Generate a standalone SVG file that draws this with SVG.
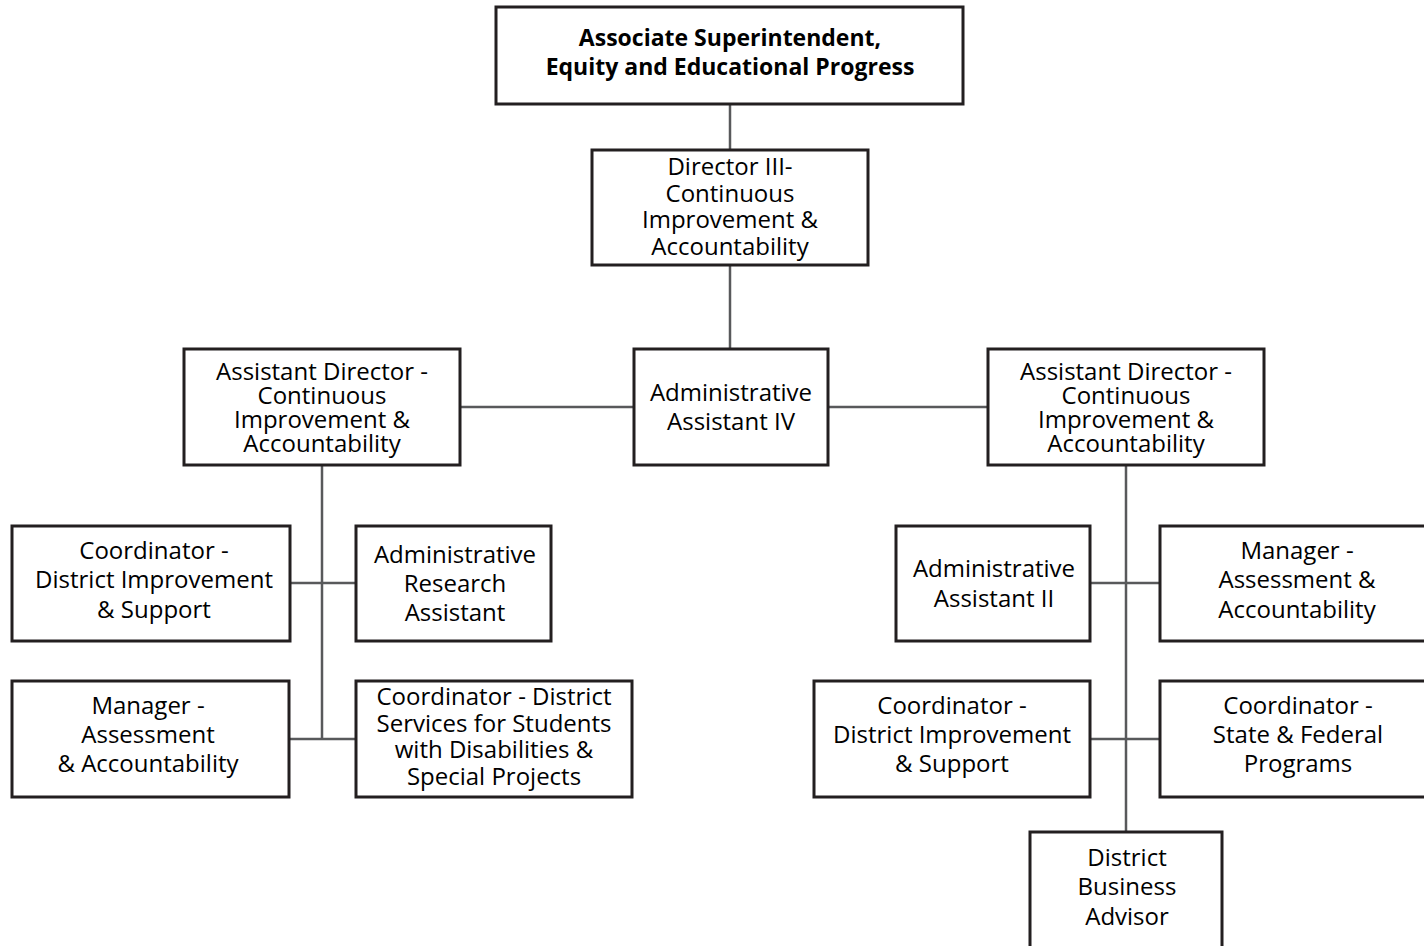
<svg xmlns="http://www.w3.org/2000/svg" width="1424" height="946" viewBox="0 0 1424 946">
<style>
.box{fill:#fff;stroke:#231f20;stroke-width:3}
.t{font-family:"Open Sans","Noto Sans",sans-serif;font-size:24px;fill:#000;text-anchor:middle}
.b{font-weight:bold;font-size:23px}
.c{stroke:#58595b;stroke-width:2.5;fill:none}
</style>
<rect width="1424" height="946" fill="#fff"/>
<g id="connectors">
<line class="c" x1="730" y1="104" x2="730" y2="150"/>
<line class="c" x1="730" y1="265" x2="730" y2="349"/>
<line class="c" x1="460" y1="407" x2="634" y2="407"/>
<line class="c" x1="828" y1="407" x2="988" y2="407"/>
<line class="c" x1="322" y1="465" x2="322" y2="739"/>
<line class="c" x1="290" y1="583" x2="356" y2="583"/>
<line class="c" x1="289" y1="739" x2="356" y2="739"/>
<line class="c" x1="1126" y1="465" x2="1126" y2="832"/>
<line class="c" x1="1090" y1="583" x2="1160" y2="583"/>
<line class="c" x1="1090" y1="739" x2="1160" y2="739"/>
</g>
<g id="n-assoc">
<rect class="box" x="496" y="7" width="467" height="97"/>
<text class="t b" x="730" y="46">Associate Superintendent,</text>
<text class="t b" x="730" y="75">Equity and Educational Progress</text>
</g>
<g id="n-director">
<rect class="box" x="592" y="150" width="276" height="115"/>
<text class="t" x="730" y="175">Director III-</text>
<text class="t" x="730" y="202">Continuous</text>
<text class="t" x="730" y="228">Improvement &amp;</text>
<text class="t" x="730" y="255">Accountability</text>
</g>
<g id="n-ad-left">
<rect class="box" x="184" y="349" width="276" height="116"/>
<text class="t" x="322" y="380">Assistant Director -</text>
<text class="t" x="322" y="404">Continuous</text>
<text class="t" x="322" y="428">Improvement &amp;</text>
<text class="t" x="322" y="452">Accountability</text>
</g>
<g id="n-aa4">
<rect class="box" x="634" y="349" width="194" height="116"/>
<text class="t" x="731" y="401">Administrative</text>
<text class="t" x="731" y="430">Assistant IV</text>
</g>
<g id="n-ad-right">
<rect class="box" x="988" y="349" width="276" height="116"/>
<text class="t" x="1126" y="380">Assistant Director -</text>
<text class="t" x="1126" y="404">Continuous</text>
<text class="t" x="1126" y="428">Improvement &amp;</text>
<text class="t" x="1126" y="452">Accountability</text>
</g>
<g id="n-coord-left">
<rect class="box" x="12" y="526" width="278" height="115"/>
<text class="t" x="154" y="559">Coordinator -</text>
<text class="t" x="154" y="588">District Improvement</text>
<text class="t" x="154" y="618">&amp; Support</text>
</g>
<g id="n-research">
<rect class="box" x="356" y="526" width="195" height="115"/>
<text class="t" x="455" y="563">Administrative</text>
<text class="t" x="455" y="592">Research</text>
<text class="t" x="455" y="621">Assistant</text>
</g>
<g id="n-manager-left">
<rect class="box" x="12" y="681" width="277" height="116"/>
<text class="t" x="148" y="714">Manager -</text>
<text class="t" x="148" y="743">Assessment</text>
<text class="t" x="148" y="772">&amp; Accountability</text>
</g>
<g id="n-coord-ds">
<rect class="box" x="356" y="681" width="276" height="116"/>
<text class="t" x="494" y="705">Coordinator - District</text>
<text class="t" x="494" y="732">Services for Students</text>
<text class="t" x="494" y="758">with Disabilities &amp;</text>
<text class="t" x="494" y="785">Special Projects</text>
</g>
<g id="n-aa2">
<rect class="box" x="896" y="526" width="194" height="115"/>
<text class="t" x="994" y="577">Administrative</text>
<text class="t" x="994" y="607">Assistant II</text>
</g>
<g id="n-manager-right">
<rect class="box" x="1160" y="526" width="280" height="115"/>
<text class="t" x="1297" y="559">Manager -</text>
<text class="t" x="1297" y="588">Assessment &amp;</text>
<text class="t" x="1297" y="618">Accountability</text>
</g>
<g id="n-coord-right">
<rect class="box" x="814" y="681" width="276" height="116"/>
<text class="t" x="952" y="714">Coordinator -</text>
<text class="t" x="952" y="743">District Improvement</text>
<text class="t" x="952" y="772">&amp; Support</text>
</g>
<g id="n-coord-state">
<rect class="box" x="1160" y="681" width="280" height="116"/>
<text class="t" x="1298" y="714">Coordinator -</text>
<text class="t" x="1298" y="743">State &amp; Federal</text>
<text class="t" x="1298" y="772">Programs</text>
</g>
<g id="n-dba">
<rect class="box" x="1030" y="832" width="192" height="130"/>
<text class="t" x="1127" y="866">District</text>
<text class="t" x="1127" y="895">Business</text>
<text class="t" x="1127" y="925">Advisor</text>
</g>
</svg>
